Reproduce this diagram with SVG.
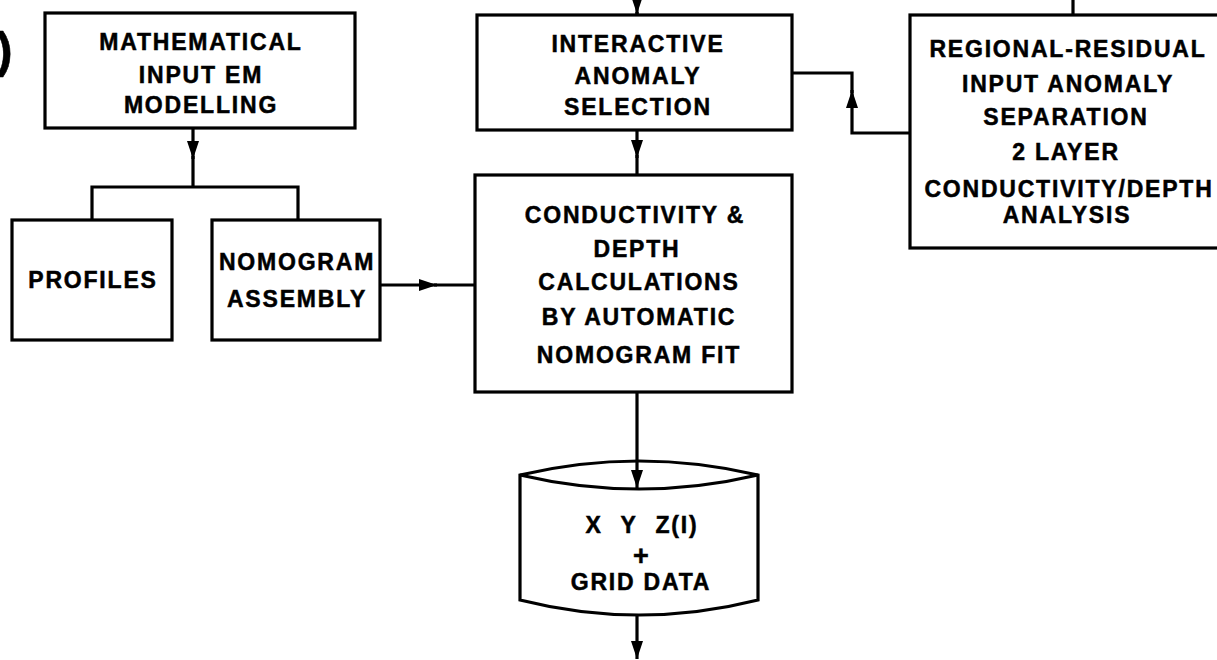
<svg xmlns="http://www.w3.org/2000/svg" width="1217" height="660" viewBox="0 0 1217 660">
  <style>
    .box { fill: #fff; stroke: #000; stroke-width: 3.2; }
    .ln { fill: none; stroke: #000; stroke-width: 3.2; }
    .t { font-family: "Liberation Sans", Arial, sans-serif; font-weight: bold; font-size: 23px; letter-spacing: 1.8px; fill: #000; stroke: #000; stroke-width: 0.5; text-anchor: middle; }
  </style>
  <defs>
    <marker id="ah" markerUnits="userSpaceOnUse" markerWidth="18" markerHeight="12" viewBox="0 0 18 12" refX="18" refY="6" orient="auto">
      <path d="M0,0 L18,6 L0,12 Z" fill="#000"/>
    </marker>
  </defs>
  <rect width="1217" height="660" fill="#fff"/>

  <text class="t" x="-4" y="67" style="font-size:50px;text-anchor:start;letter-spacing:0">)</text>

  <g id="math">
    <rect class="box" x="45" y="13" width="310" height="115"/>
    <text class="t" x="201" y="50">MATHEMATICAL</text>
    <text class="t" x="201" y="83">INPUT EM</text>
    <text class="t" x="201" y="113">MODELLING</text>
  </g>

  <g id="profiles">
    <rect class="box" x="12" y="220" width="160" height="120"/>
    <text class="t" x="93" y="288">PROFILES</text>
  </g>

  <g id="nomogram">
    <rect class="box" x="212" y="220" width="168" height="120"/>
    <text class="t" x="297" y="270">NOMOGRAM</text>
    <text class="t" x="297" y="307">ASSEMBLY</text>
  </g>

  <g id="interactive">
    <rect class="box" x="477" y="15" width="315" height="115"/>
    <text class="t" x="638" y="52">INTERACTIVE</text>
    <text class="t" x="638" y="84">ANOMALY</text>
    <text class="t" x="638" y="115">SELECTION</text>
  </g>

  <g id="conductivity">
    <rect class="box" x="475" y="175" width="317" height="217"/>
    <text class="t" x="635" y="223">CONDUCTIVITY &amp;</text>
    <text class="t" x="637" y="257">DEPTH</text>
    <text class="t" x="639" y="290">CALCULATIONS</text>
    <text class="t" x="639" y="325">BY AUTOMATIC</text>
    <text class="t" x="639" y="363">NOMOGRAM FIT</text>
  </g>

  <g id="regional">
    <rect class="box" x="910" y="15" width="320" height="233"/>
    <text class="t" x="1068" y="57">REGIONAL-RESIDUAL</text>
    <text class="t" x="1068" y="92">INPUT ANOMALY</text>
    <text class="t" x="1066" y="125">SEPARATION</text>
    <text class="t" x="1066" y="160">2 LAYER</text>
    <text class="t" x="1069" y="197">CONDUCTIVITY/DEPTH</text>
    <text class="t" x="1067" y="223">ANALYSIS</text>
  </g>

  <g id="griddata">
    <path class="box" d="M520,475 Q639,447 758,475 L758,600 Q639,630 520,600 Z"/>
    <path class="ln" d="M520,475 Q639,503 758,475"/>
    <text class="t" x="642" y="533" style="word-spacing:10px">X Y Z(I)</text>
    <text class="t" x="641" y="565" style="font-size:27px;letter-spacing:0">+</text>
    <text class="t" x="641" y="590">GRID DATA</text>
  </g>

  <g id="connectors">
    <path class="ln" d="M193,128 V159" marker-end="url(#ah)"/>
    <path class="ln" d="M193,156 V187"/>
    <path class="ln" d="M92,220 V187 H298 V220"/>
    <path class="ln" d="M380,285 H437" marker-end="url(#ah)"/>
    <path class="ln" d="M434,285 H475"/>
    <path class="ln" d="M637,0 V14" marker-end="url(#ah)"/>
    <path class="ln" d="M637,12 V15"/>
    <path class="ln" d="M637,130 V158" marker-end="url(#ah)"/>
    <path class="ln" d="M637,155 V175"/>
    <path class="ln" d="M910,133 H852 V90" marker-end="url(#ah)"/>
    <path class="ln" d="M852,93 V73 H792"/>
    <path class="ln" d="M1073,0 V15"/>
    <path class="ln" d="M637,392 V488" marker-end="url(#ah)"/>
    <path class="ln" d="M637,615 V659" marker-end="url(#ah)"/>
  </g>
</svg>
